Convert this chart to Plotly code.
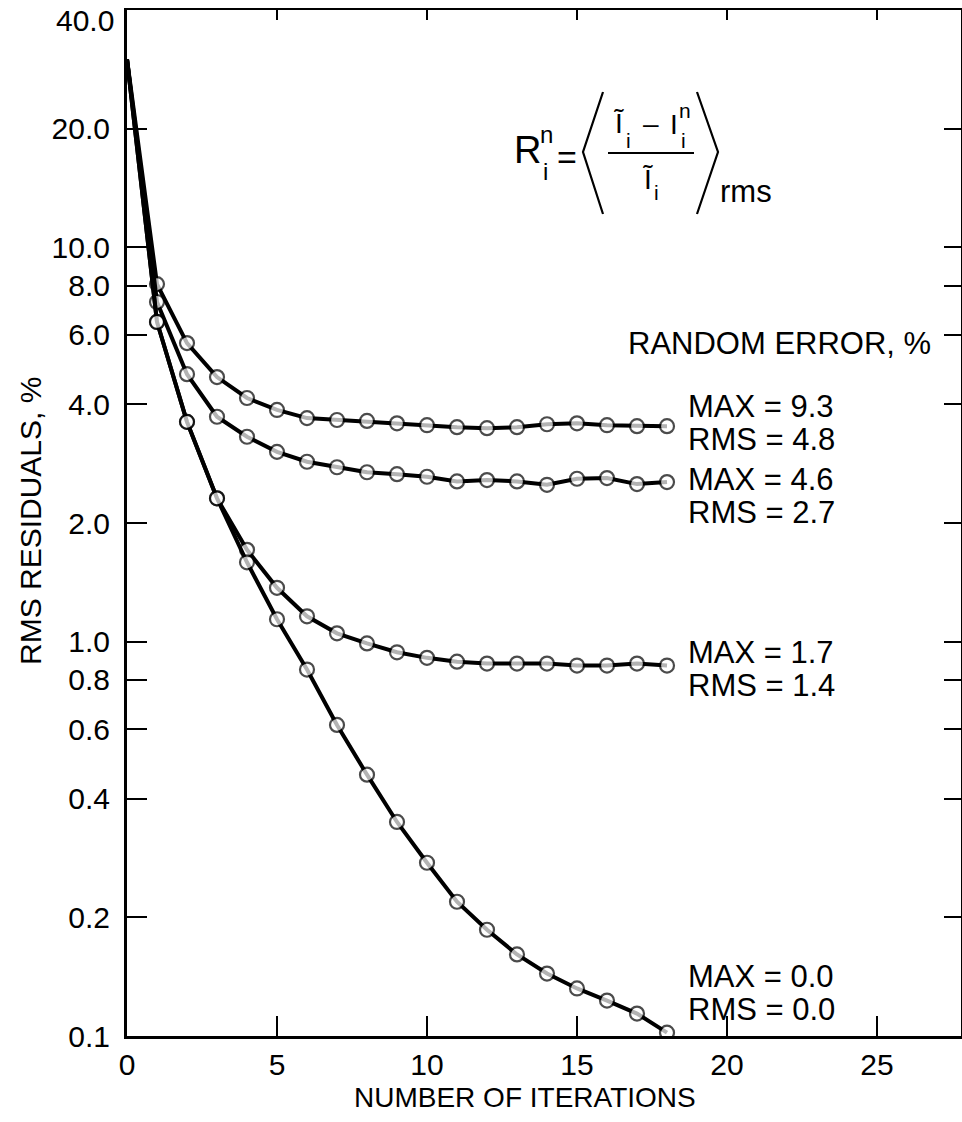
import plotly.graph_objects as go

# data
iterations = list(range(19))
rms_max93 = [30, 8.07, 5.72, 4.69, 4.15, 3.87, 3.69, 3.65, 3.63, 3.58, 3.54,
             3.50, 3.48, 3.50, 3.56, 3.58, 3.54, 3.52, 3.52]
rms_max46 = [30, 7.27, 4.77, 3.72, 3.31, 3.03, 2.86, 2.77, 2.69, 2.66, 2.62,
             2.55, 2.57, 2.55, 2.50, 2.59, 2.60, 2.51, 2.54]
rms_max17 = [30, 6.47, 3.61, 2.31, 1.71, 1.37, 1.16, 1.05, 0.99, 0.94, 0.91,
             0.89, 0.88, 0.88, 0.88, 0.87, 0.87, 0.88, 0.87]
rms_max00 = [30, 6.47, 3.61, 2.31, 1.59, 1.14, 0.85, 0.615, 0.46, 0.349, 0.275,
             0.219, 0.186, 0.161, 0.144, 0.132, 0.123, 0.114, 0.102]
series_labels = [("MAX = 9.3", "RMS = 4.8"), ("MAX = 4.6", "RMS = 2.7"),
                 ("MAX = 1.7", "RMS = 1.4"), ("MAX = 0.0", "RMS = 0.0")]

y_tickvals = [0.1, 0.2, 0.4, 0.6, 0.8, 1, 2, 4, 6, 8, 10, 20, 40]
y_ticktext = ["0.1", "0.2", "0.4", "0.6", "0.8", "1.0", "2.0", "4.0", "6.0",
              "8.0", "10.0", "20.0", ""]
x_tickvals = [0, 5, 10, 15, 20, 25]

W, H = 962, 1122
L, R, T, B = 127, 1, 10, 86
FONT = "Liberation Sans, Arial, sans-serif"


def px(x):
    return (x - L) / (W - L - R)


def py(y):
    return (H - B - y) / (H - T - B)


fig = go.Figure()
for ys in [rms_max93, rms_max46, rms_max17, rms_max00]:
    fig.add_trace(go.Scatter(
        x=iterations, y=ys, mode="lines+markers",
        line=dict(color="black", width=4),
        marker=dict(symbol="circle", size=[0] + [14] * (len(ys) - 1),
                    color="white", line=dict(color="black", width=2.2)),
        showlegend=False, hoverinfo="skip"))

# dummy trace for the top/right mirror axes
fig.add_trace(go.Scatter(x=[1], y=[1], xaxis="x2", yaxis="y2", mode="markers",
                         marker=dict(opacity=0), showlegend=False, hoverinfo="skip"))

tickfont = dict(family=FONT, size=30, color="black")
fig.update_layout(
    width=W, height=H,
    margin=dict(l=L, r=R, t=T, b=B),
    plot_bgcolor="white", paper_bgcolor="white",
    xaxis=dict(range=[0, 27.8], tickvals=x_tickvals, ticks="inside", ticklen=20,
               tickwidth=1.5, tickcolor="black", showline=True, linewidth=3,
               linecolor="black", showgrid=False, zeroline=False,
               tickfont=tickfont, ticklabelstandoff=0),
    yaxis=dict(type="log", range=[-1, 1.60206], tickvals=y_tickvals,
               ticktext=y_ticktext, ticks="inside", ticklen=20, tickwidth=1.5,
               tickcolor="black", showline=True, linewidth=3, linecolor="black",
               showgrid=False, zeroline=False, tickfont=tickfont,
               ticklabelstandoff=8),
    xaxis2=dict(overlaying="x", matches="x", side="top", tickvals=x_tickvals,
                ticks="inside", ticklen=10, tickwidth=1.5, tickcolor="black",
                showline=True, linewidth=2, linecolor="black",
                showticklabels=False, showgrid=False, zeroline=False),
    yaxis2=dict(overlaying="y", matches="y", type="log", side="right",
                tickvals=y_tickvals, ticks="inside", ticklen=17, tickwidth=1.5,
                tickcolor="black", showline=True, linewidth=2,
                linecolor="black", showticklabels=False, showgrid=False,
                zeroline=False),
)

ann = []


def text(t, x, y, size=31, xanchor="center", angle=0):
    ann.append(dict(text=t, x=px(x), y=py(y), xref="paper", yref="paper",
                    xanchor=xanchor, yanchor="middle", showarrow=False,
                    textangle=angle,
                    font=dict(family=FONT, size=size, color="black")))


text("40.0", 116, 20, size=30, xanchor="right")
text("NUMBER OF ITERATIONS", 525, 1097, size=28)
text("RMS RESIDUALS, %", 30, 521, size=30, angle=-90)
text("RANDOM ERROR, %", 933, 343, xanchor="right")

label_y = [406, 479, 652, 976]
for (mx, rm), yy in zip(series_labels, label_y):
    text(mx, 686, yy, xanchor="left")
    text(rm, 686, yy + 33, xanchor="left")

# formula R_i^n = < (I~_i - I_i^n) / I~_i >_rms
text("R", 527, 150, size=38)
text("n", 546, 134, size=24)
text("i", 545, 171, size=24)
text("=", 567, 157, size=34)
text("Ĩ", 619, 123, size=28)
text("i", 628, 141, size=21)
text("\u2013", 651, 123, size=28)
text("I", 674, 124, size=28)
text("n", 685, 110, size=21)
text("i", 683, 141, size=21)
text("Ĩ", 648, 179, size=28)
text("i", 656, 192, size=21)
text("rms", 746, 191, size=31)
fig.update_layout(annotations=ann)

shapes = [
    dict(type="line", x0=px(608), x1=px(694), y0=py(153), y1=py(153)),
    dict(type="path", path="M %f,%f L %f,%f L %f,%f" % (
        px(603), py(92), px(583), py(152), px(603), py(214))),
    dict(type="path", path="M %f,%f L %f,%f L %f,%f" % (
        px(697), py(92), px(718), py(152), px(697), py(214))),
]
for s in shapes:
    s.update(xref="paper", yref="paper", line=dict(color="black", width=2.2))
fig.update_layout(shapes=shapes)

# drop the default 8px body margin so the figure sits at the window corner
fig.write_html("out.html", config={"displayModeBar": False},
               post_script="document.body.style.margin='0';")
